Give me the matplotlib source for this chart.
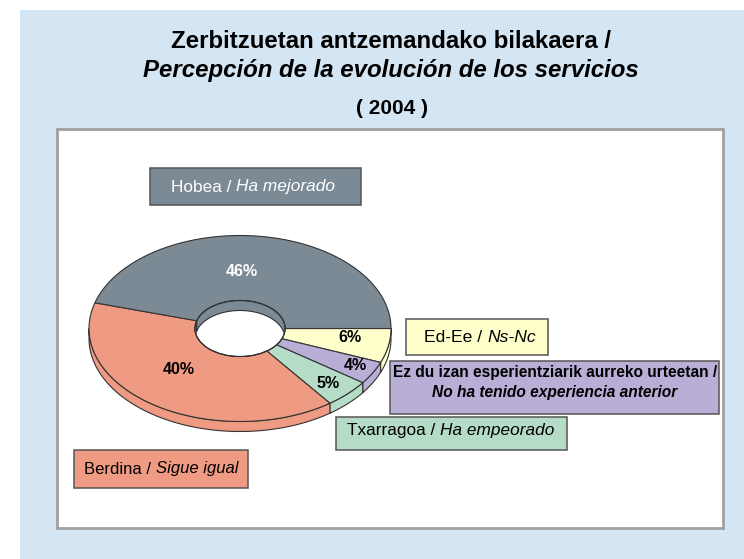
import numpy as np
import matplotlib
matplotlib.use('Agg')
import matplotlib.pyplot as plt
from matplotlib.patches import Polygon, Rectangle, Ellipse

plt.rcParams['font.family'] = ['Liberation Sans', 'DejaVu Sans']

# data, clockwise from 3 o'clock
labels = ['Ed-Ee', 'Ez du izan', 'Txarragoa', 'Berdina', 'Hobea']
values = [6, 4, 5, 40, 46]
colores = ['#ffffcc', '#b9aed6', '#b5dcc6', '#ef9a82', '#7b8a95']
etiquetas = ['6%', '4%', '5%', '40%', '46%']
etiq_color = ['black', 'black', 'black', 'black', 'white']
etiq_pos = [(350, 338), (355, 366), (328, 383), (179, 370), (242, 272)]

cx, cy, a, b = 240, 328.5, 151, 93
ia, ib = 45, 28
prof = 10
borde = '#333333'

fig = plt.figure(figsize=(7.44, 5.59), dpi=100)
ax = fig.add_axes([0, 0, 1, 1])
ax.set_xlim(0, 744)
ax.set_ylim(559, 0)
ax.axis('off')


def arco(t0, t1, ra, rb, dy=0):
    t = np.radians(np.linspace(t0, t1, 80))
    return np.column_stack([cx + ra * np.cos(t), cy + dy + rb * np.sin(t)])


def texto_mixto(x, y, partes, size, color='black'):
    # partes = [(texto, estilo, peso)], centrado en x
    r = fig.canvas.get_renderer()
    items = [ax.text(0, y, s, style=e, weight=w, fontsize=size, color=color,
                     va='center', ha='left', zorder=8) for s, e, w in partes]
    anchos = [i.get_window_extent(r).width for i in items]
    xi = x - sum(anchos) / 2
    for i, w in zip(items, anchos):
        i.set_x(xi)
        xi += w


def caja(x0, y0, x1, y1, color, borde_c='#555555'):
    ax.add_patch(Rectangle((x0, y0), x1 - x0, y1 - y0, fc=color, ec=borde_c, lw=1.1, zorder=7))


# fondo
ax.add_patch(Rectangle((20, 10), 724, 549, fc='#d4e6f4', ec='none', zorder=0))
ax.add_patch(Rectangle((56.5, 128.5), 666, 399.5, fc='white', ec='#a0a0a0', lw=2, zorder=1))

# titulo
ax.text(391, 41, 'Zerbitzuetan antzemandako bilakaera /', ha='center', va='center',
        fontsize=17.3, weight='bold')
ax.text(391, 71, 'Percepción de la evolución de los servicios', ha='center', va='center',
        fontsize=17.3, weight='bold', style='italic')
ax.text(392, 109, '( 2004 )', ha='center', va='center', fontsize=15, weight='bold')

# angulos
total = sum(values)
fin = np.cumsum(values) / total * 360
ini = np.concatenate([[0], fin[:-1]])

# pared exterior
for t0, t1, c in zip(ini, fin, colores):
    t0v, t1v = t0, min(t1, 180)
    if t0v < t1v:
        pts = np.vstack([arco(t0v, t1v, a, b), arco(t1v, t0v, a, b, prof)])
        ax.add_patch(Polygon(pts, fc=c, ec=borde, lw=0.8, zorder=2))

# cara superior
for t0, t1, c in zip(ini, fin, colores):
    pts = np.vstack([arco(t0, t1, a, b), arco(t1, t0, ia, ib)])
    ax.add_patch(Polygon(pts, fc=c, ec=borde, lw=0.8, zorder=3))

# agujero y pared interior
ax.add_patch(Ellipse((cx, cy), 2 * ia, 2 * ib, fc='white', ec=borde, lw=0.8, zorder=4))
clip = Ellipse((cx, cy), 2 * ia, 2 * ib, transform=ax.transData)
for t0, t1, c in zip(ini, fin, colores):
    t0v, t1v = max(t0, 180), min(t1, 360)
    if t0v < t1v:
        pts = np.vstack([arco(t0v, t1v, ia, ib), arco(t1v, t0v, ia, ib, prof)])
        p = Polygon(pts, fc=c, ec=borde, lw=0.8, zorder=5)
        ax.add_patch(p)
        p.set_clip_path(clip)
ax.add_patch(Ellipse((cx, cy), 2 * ia, 2 * ib, fc='none', ec=borde, lw=0.8, zorder=6))

# porcentajes
for s, (x, y), c in zip(etiquetas, etiq_pos, etiq_color):
    ax.text(x, y, s, ha='center', va='center', fontsize=11.5, weight='bold', color=c, zorder=8)

# cajas
caja(150, 168, 361, 205, colores[4])
texto_mixto(253, 187, [('Hobea / ', 'normal', 'normal'), ('Ha mejorado', 'italic', 'normal')], 12.4, 'white')
caja(406, 319, 548, 355, colores[0])
texto_mixto(480, 337, [('Ed-Ee / ', 'normal', 'normal'), ('Ns-Nc', 'italic', 'normal')], 12.6)
caja(390, 361, 719, 414, colores[1])
ax.text(555, 373, 'Ez du izan esperientziarik aurreko urteetan /', ha='center', va='center',
        fontsize=11.2, weight='bold', zorder=8)
ax.text(555, 393, 'No ha tenido experiencia anterior', ha='center', va='center',
        fontsize=11.2, weight='bold', style='italic', zorder=8)
caja(336, 417, 567, 450, colores[2])
texto_mixto(451, 431, [('Txarragoa / ', 'normal', 'normal'), ('Ha empeorado', 'italic', 'normal')], 12.4)
caja(74, 450, 248, 488, colores[3])
texto_mixto(161, 469, [('Berdina / ', 'normal', 'normal'), ('Sigue igual', 'italic', 'normal')], 12)

fig.savefig('out.png', dpi=100)
